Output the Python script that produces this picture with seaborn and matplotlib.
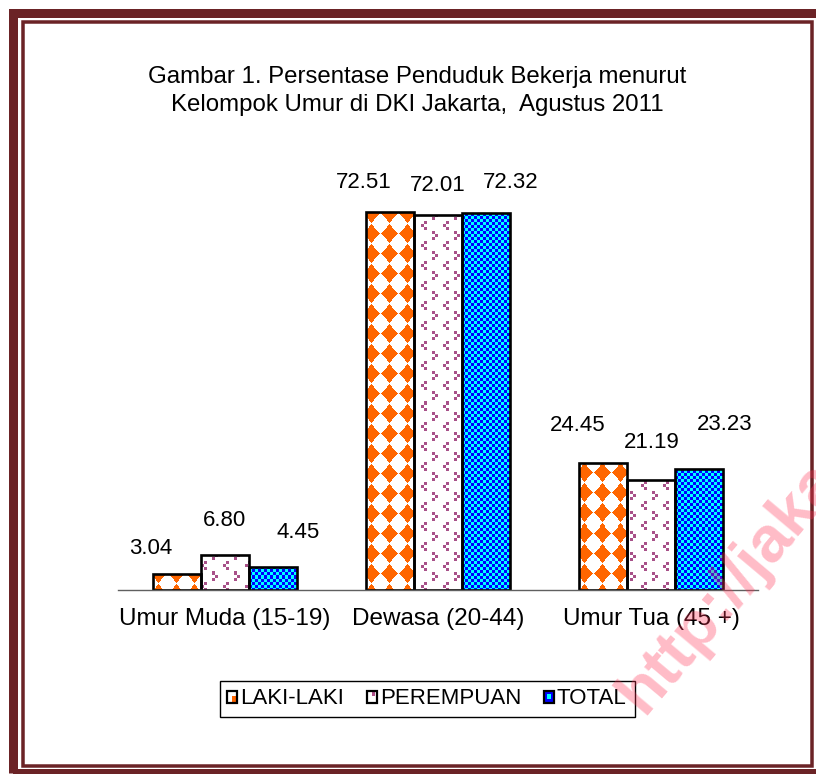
import numpy as np
import pandas as pd
import matplotlib
matplotlib.use("Agg")
import matplotlib.pyplot as plt
import seaborn as sns
from matplotlib.patches import Rectangle, Patch
from matplotlib.legend_handler import HandlerBase

# ---------------- data ----------------
categories = ["Umur Muda (15-19)", "Dewasa (20-44)", "Umur Tua (45 +)"]
series = ["LAKI-LAKI", "PEREMPUAN", "TOTAL"]
laki = [3.04, 72.51, 24.45]
perempuan = [6.80, 72.01, 21.19]
total = [4.45, 72.32, 23.23]
title = "Gambar 1. Persentase Penduduk Bekerja menurut\nKelompok Umur di DKI Jakarta,  Agustus 2011"
watermark = "http://jakarta.bps.go.id"

df = pd.DataFrame({
    "Kelompok": categories * 3,
    "Jenis": np.repeat(series, 3),
    "Persen": laki + perempuan + total,
})

# ---------------- style ----------------
sns.set_style("white")
plt.rcParams["font.family"] = ["Liberation Sans", "DejaVu Sans"]
plt.rcParams["text.color"] = "black"
plt.rcParams["xtick.color"] = "black"

W, H = 816, 774
fig = plt.figure(figsize=(W / 100, H / 100), dpi=100)
fig.patch.set_facecolor("white")

ax = fig.add_axes([118 / W, 1 - 590 / H, 640 / W, (590 - 173) / H])
sns.barplot(data=df, x="Kelompok", y="Persen", hue="Jenis", order=categories,
            hue_order=series, width=0.675, palette=["#FF6600", "#FFFFFF", "#0000FF"],
            saturation=1, edgecolor="black", linewidth=1.9, errorbar=None,
            legend=False, ax=ax)
ax.set_xlim(-0.5, 2.5)
ax.set_ylim(0, 80)
ax.set_xlabel("")
ax.set_ylabel("")
ax.set_yticks([])
for s in ["left", "right", "top"]:
    ax.spines[s].set_visible(False)
ax.spines["bottom"].set_color("#606060")
ax.spines["bottom"].set_linewidth(1.0)
ax.set_xticks([-0.5, 0.5, 1.5, 2.5], minor=True)
ax.tick_params(axis="x", which="major", length=0, pad=13, labelsize=17.5,
               labelcolor="black")
ax.tick_params(axis="x", which="minor", length=5, width=1.0, color="#606060")

# ---------------- pattern fills ----------------
def pat_laki(X, Y, bx):
    u = ((X - bx - 5 + 9) % 18) - 9
    v = ((Y - 13 + 10) % 20) - 10
    m = np.abs(u) / 9 + np.abs(v) / 10 <= 0.93
    img = np.ones(X.shape + (3,))
    img[m] = [1.0, 0.4, 0.0]
    return img

chev_lt = [(3, 0), (0, 3), (3, 6)]
chev_gt = [(0, 0), (3, 3), (0, 6)]
def pat_per(X, Y, bx):
    img = np.ones(X.shape + (3,))
    u = (X.astype(int)) % 22
    v = (Y.astype(int)) % 20
    col = np.array([0.66, 0.32, 0.54])
    m = np.zeros(X.shape, bool)
    for (ox, oy), shape in (((3, 2), chev_lt), ((14, 12), chev_gt)):
        for (dx, dy) in shape:
            du = (u - ox - dx) % 22
            dv = (v - oy - dy) % 20
            m |= (du < 3) & (dv < 3)
    img[m] = col
    return img

def pat_total(X, Y, bx):
    c = ((X.astype(int) // 3) + (Y.astype(int) // 3)) % 2 == 0
    img = np.zeros(X.shape + (3,))
    img[c] = [0.0, 0.0, 1.0]
    img[~c] = [0.0, 1.0, 1.0]
    return img

pattern_funcs = [pat_laki, pat_per, pat_total]
for i, cont in enumerate(ax.containers):
    for p in cont:
        x0, y0 = p.get_x(), p.get_y()
        x1, y1 = x0 + p.get_width(), y0 + p.get_height()
        (px0, py0), (px1, py1) = ax.transData.transform([[x0, y0], [x1, y1]])
        nx = max(1, int(round(px1 - px0)))
        ny = max(1, int(round(py1 - py0)))
        X, Y = np.meshgrid(np.arange(nx) + round(px0), np.arange(ny) + round(H - py1))
        img = pattern_funcs[i](X, Y, round(px0))
        im = ax.imshow(img, extent=(x0, x1, y0, y1), origin="upper",
                       interpolation="nearest", aspect="auto", zorder=1.5)
        im.set_clip_path(p)
        p.set_facecolor("none")
        p.set_zorder(2)
ax.set_xlim(-0.5, 2.5)
ax.set_ylim(0, 80)

# ---------------- data labels ----------------
label_dx = [-26, 0, 25]
label_dy = [[26, 34, 34], [30, 29, 31], [37, 37, 44]]
values = [laki, perempuan, total]
for i, cont in enumerate(ax.containers):
    for j, p in enumerate(cont):
        xc = p.get_x() + p.get_width() / 2
        ax.annotate(f"{values[i][j]:.2f}", (xc, values[i][j]),
                    xytext=(label_dx[i], label_dy[j][i]), textcoords="offset pixels",
                    ha="center", va="center", fontsize=16, color="black",
                    annotation_clip=False)

# ---------------- title ----------------
fig.text(417 / W, 1 - 91 / H, title, ha="center", va="center", fontsize=17.3,
         linespacing=1.3, color="black")

# ---------------- legend ----------------
class SwatchHandler(HandlerBase):
    def __init__(self, kind):
        super().__init__()
        self.kind = kind

    def create_artists(self, legend, orig_handle, xdescent, ydescent, width,
                       height, fontsize, trans):
        x, y = -xdescent, -ydescent
        arts = [Rectangle((x, y), width, height, facecolor="white",
                          edgecolor="none", transform=trans)]
        if self.kind == 0:
            arts.append(Rectangle((x + width * 0.45, y), width * 0.55, height * 0.55,
                                  facecolor="#FF6600", edgecolor="none", transform=trans))
        elif self.kind == 1:
            arts.append(Rectangle((x + width * 0.55, y + height * 0.55), width * 0.3,
                                  height * 0.3, facecolor="#B0508A", edgecolor="none",
                                  transform=trans))
        else:
            arts.append(Rectangle((x, y), width, height, facecolor="#0000FF",
                                  edgecolor="none", transform=trans))
            arts.append(Rectangle((x + width * 0.3, y + height * 0.3), width * 0.4,
                                  height * 0.4, facecolor="#00FFFF", edgecolor="none",
                                  transform=trans))
        arts.append(Rectangle((x, y), width, height, facecolor="none",
                              edgecolor="black", linewidth=1.6, transform=trans))
        return arts

handles = [Patch(), Patch(), Patch()]
leg = fig.legend(handles=handles, labels=series,
                 handler_map={h: SwatchHandler(k) for k, h in enumerate(handles)},
                 loc="center", bbox_to_anchor=(427 / W, 1 - 699 / H), ncol=3,
                 frameon=True, fancybox=False, framealpha=1, edgecolor="black",
                 fontsize=16, handlelength=0.45, handleheight=0.45, handletextpad=0.15,
                 columnspacing=1.0, borderpad=0.35, labelcolor="black")
leg.get_frame().set_linewidth(1.0)

# ---------------- frame ----------------
frame_col = "#6B2326"
fig.patches.append(Rectangle((12.5 / W, 1 - 772.5 / H), (830 - 12.5) / W,
                             (772.5 - 12.5) / H, fill=False, edgecolor=frame_col,
                             linewidth=9 * 0.72, joinstyle="miter",
                             transform=fig.transFigure, figure=fig))
fig.patches.append(Rectangle((23 / W, 1 - 765.5 / H), (811.5 - 23) / W,
                             (765.5 - 21.5) / H, fill=False, edgecolor=frame_col,
                             linewidth=3.5 * 0.72, joinstyle="miter",
                             transform=fig.transFigure, figure=fig))

# ---------------- watermark ----------------
fig.text(644 / W, 1 - 716 / H, watermark, rotation=50, rotation_mode="anchor",
         ha="left", va="baseline", fontsize=47, fontweight="bold",
         color="#FF3355", alpha=0.33, zorder=10)

fig.savefig("out.png", dpi=100)
